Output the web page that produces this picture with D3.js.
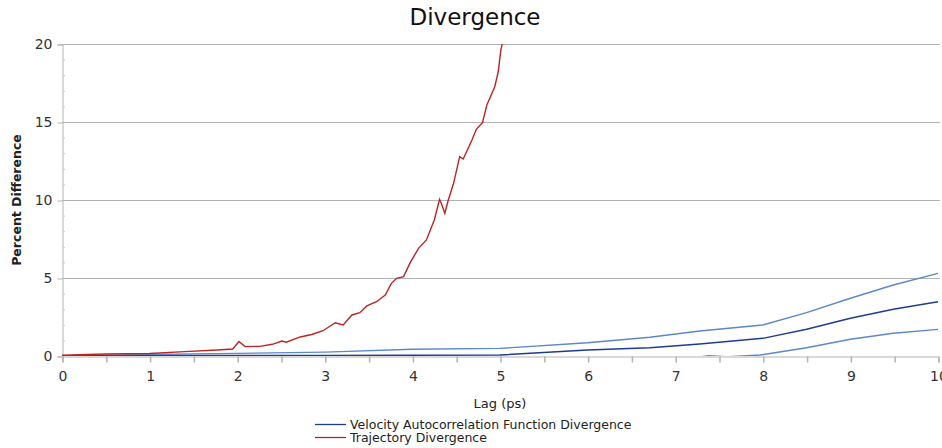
<!DOCTYPE html>
<html><head><meta charset="utf-8">
<script src="https://cdn.jsdelivr.net/npm/d3@7"></script>
<style>body{margin:0;background:#fff;font-family:"DejaVu Sans",Verdana,sans-serif}</style>
</head><body><svg id="c" width="942" height="448"></svg>
<script>
const xTicks = [0,1,2,3,4,5,6,7,8,9,10];
const yTicks = [0,5,10,15,20];
const trajLag = [0,0.5,1.0,1.4,1.77,1.95,2.02,2.09,2.26,2.4,2.51,2.56,2.72,2.85,2.98,3.12,3.21,3.31,3.40,3.48,3.59,3.69,3.76,3.82,3.90,3.97,4.07,4.16,4.25,4.31,4.33,4.37,4.41,4.47,4.54,4.58,4.68,4.73,4.80,4.85,4.94,4.98,5.01,5.03,5.06];
const trajVal = [0.05,0.13,0.16,0.28,0.38,0.45,0.93,0.60,0.62,0.75,0.96,0.88,1.22,1.38,1.62,2.13,1.99,2.63,2.78,3.21,3.48,3.91,4.66,4.98,5.09,5.94,6.90,7.44,8.72,10.04,9.79,9.15,10.0,11.07,12.78,12.63,13.85,14.53,14.96,16.09,17.26,18.22,19.62,20.1,21.5];
const vacfLag = [0,1,2,3,4,5,6,6.71,7.28,8,8.5,9,9.49,10];
const vacfVal = [0,0.02,0.03,0.04,0.05,0.06,0.38,0.53,0.77,1.13,1.71,2.42,2.99,3.48];
const upperVal = [0,0.1,0.17,0.25,0.43,0.49,0.85,1.2,1.6,1.99,2.78,3.70,4.55,5.30];
const lowerLag = [6.71,7.0,7.38,7.6,7.97,8.5,9,9.49,10];
const lowerVal = [-0.6,-0.3,0.02,-0.05,0.06,0.53,1.07,1.46,1.71];

const svg = d3.select("#c");
const m = {l:62, r:938, t:44, b:356};
const x = d3.scaleLinear().domain([0,10]).range([m.l,m.r]);
const y = d3.scaleLinear().domain([0,20]).range([m.b,m.t]);

svg.append("defs").append("clipPath").attr("id","clip").append("rect")
  .attr("x",m.l).attr("y",m.t).attr("width",m.r-m.l+2).attr("height",m.b-m.t);

// gridlines
svg.append("g").selectAll("line").data(yTicks.filter(d=>d>0)).join("line")
  .attr("x1",m.l).attr("x2",m.r+2).attr("y1",d=>y(d)+0.5).attr("y2",d=>y(d)+0.5)
  .attr("stroke","#b3b3b3").attr("stroke-width",1);

// y axis
const ya = svg.append("g").attr("transform",`translate(${m.l+0.5},0.5)`)
  .call(d3.axisLeft(y).tickValues(yTicks).tickSize(5).tickPadding(5).tickFormat(d3.format("d")));
ya.select(".domain").attr("stroke","#b3b3b3");
ya.selectAll(".tick line").attr("stroke","#b3b3b3");
ya.selectAll("text").attr("font-size",14).attr("fill","#333").attr("font-family","DejaVu Sans");
// y minor ticks
svg.append("g").selectAll("line").data(d3.range(1,20).filter(d=>d%5)).join("line")
  .attr("x1",m.l+1).attr("x2",m.l+3).attr("y1",d=>y(d)+0.5).attr("y2",d=>y(d)+0.5)
  .attr("stroke","#c8c8c8");

// x axis
const xa = svg.append("g").attr("transform",`translate(0.5,${m.b+0.5})`)
  .call(d3.axisBottom(x).tickValues(d3.range(0,10.01,0.5)).tickSize(6).tickPadding(9)
    .tickFormat(d=>Number.isInteger(d)?d:""));
xa.select(".domain").attr("stroke","#b3b3b3");
xa.selectAll(".tick line").attr("stroke","#b3b3b3").attr("stroke-width",1.5);
xa.selectAll("text").attr("font-size",14).attr("fill","#333").attr("font-family","DejaVu Sans");

const line = (xs, ys) => d3.line().x((d,i)=>x(xs[i])).y((d,i)=>y(ys[i]))(ys);
const plot = svg.append("g").attr("clip-path","url(#clip)");
plot.append("path").attr("d",line(vacfLag,upperVal)).attr("fill","none").attr("stroke","#5b87cc").attr("stroke-width",1.4);
plot.append("path").attr("d",line(lowerLag,lowerVal)).attr("fill","none").attr("stroke","#5b87cc").attr("stroke-width",1.4);
plot.append("path").attr("d",line(vacfLag,vacfVal)).attr("fill","none").attr("stroke","#1f3c94").attr("stroke-width",1.5);
plot.append("path").attr("d",line(trajLag,trajVal)).attr("fill","none").attr("stroke","#bb2424").attr("stroke-width",1.4);

// title & labels
svg.append("text").attr("x",475).attr("y",25).attr("text-anchor","middle")
  .attr("font-size",23).attr("fill","#111").text("Divergence");
svg.append("text").attr("transform","translate(21,200) rotate(-90)").attr("text-anchor","middle")
  .attr("font-size",12.5).attr("font-weight","bold").attr("fill","#222").text("Percent Difference");
svg.append("text").attr("x",500).attr("y",408).attr("text-anchor","middle")
  .attr("font-size",13).attr("fill","#222").text("Lag (ps)");

// legend
const leg = [["Velocity Autocorrelation Function Divergence","#1f3c94"],["Trajectory Divergence","#bb2424"]];
const lg = svg.append("g").selectAll("g").data(leg).join("g")
  .attr("transform",(d,i)=>`translate(315,${424+i*13})`);
lg.append("line").attr("x1",0).attr("x2",31).attr("y1",0.5).attr("y2",0.5).attr("stroke",d=>d[1]).attr("stroke-width",1.3);
lg.append("text").attr("x",35).attr("y",5).attr("font-size",12.5).attr("fill","#222").text(d=>d[0]);
</script></body></html>
